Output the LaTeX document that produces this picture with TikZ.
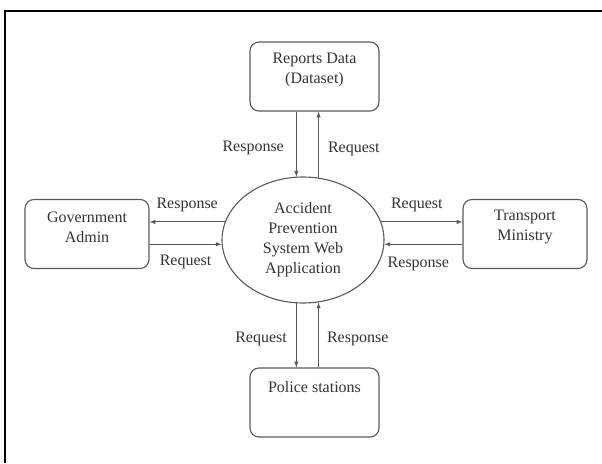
\documentclass[tikz,border=0pt]{standalone}
\usepackage{fontspec}
\setmainfont{Liberation Serif}
\usepackage{xcolor}
\usetikzlibrary{arrows}
\usetikzlibrary{shapes.geometric}
\definecolor{LineGray}{rgb}{0.35, 0.35, 0.35}
\definecolor{TextGray}{rgb}{0.2, 0.2, 0.2}
\tikzset{
  box/.style={draw=LineGray, line width=1.1pt, rounded corners=9pt, minimum height=69pt},
  boxtext/.style={text=TextGray, align=center, font=\fontsize{16}{20}\selectfont},
  flow/.style={draw=LineGray, line width=1pt, -latex},
  tag/.style={text=TextGray, inner sep=0pt, font=\fontsize{16}{20}\selectfont}
}
\begin{document}
\begin{tikzpicture}[x=1pt,y=-1pt]
\useasboundingbox (0,0) rectangle (602,463);
\draw[line width=2pt] (4.5,463) -- (4.5,10.5) -- (602,10.5);
% the system and the four parties round it
\node[ellipse, draw=LineGray, line width=1.1pt, minimum width=162pt, minimum height=126pt, inner sep=0pt, boxtext] (app) at (303,240) {Accident\\Prevention\\System Web\\Application};
\node[box, minimum width=129pt, label={[boxtext, yshift=6.5pt]center:{Reports Data\\(Dataset)}}] (data) at (314.5,76.5) {};
\node[box, minimum width=124pt, label={[boxtext, yshift=7pt]center:{Government\\Admin}}] (admin) at (87,234) {};
\node[box, minimum width=124pt, label={[boxtext, yshift=7pt]center:{Transport\\Ministry}}] (ministry) at (525,234) {};
\node[box, minimum width=129pt, label={[boxtext, yshift=15pt]center:{Police stations}}] (police) at (314.5,402.5) {};
% flows
\begin{scope}[every node/.style={tag}]
    \draw[flow] (data.south -| app.96) -- (app.96) node[midway, left=12pt, yshift=-4pt] {Response};
    \draw[flow] (app.76) -- (data.south -| app.76) node[midway, right=9pt, yshift=-4pt] {Request};
    \draw[flow] (app.167) -- (admin.east |- app.167) node[midway, above=10pt] {Response};
    \draw[flow] (admin.east |- app.183) -- (app.183) node[midway, below=10pt] {Request};
    \draw[flow] (app.13) -- (ministry.west |- app.13) node[midway, above=10pt, xshift=-5pt] {Request};
    \draw[flow] (ministry.west |- app.-3) -- (app.-3) node[midway, below=12pt, xshift=-5pt] {Response};
    \draw[flow] (app.-96) -- (police.north -| app.-96) node[midway, left=9pt, yshift=-4pt] {Request};
    \draw[flow] (police.north -| app.-76) -- (app.-76) node[midway, right=8pt, yshift=-4pt] {Response};
\end{scope}
\end{tikzpicture}
\end{document}
